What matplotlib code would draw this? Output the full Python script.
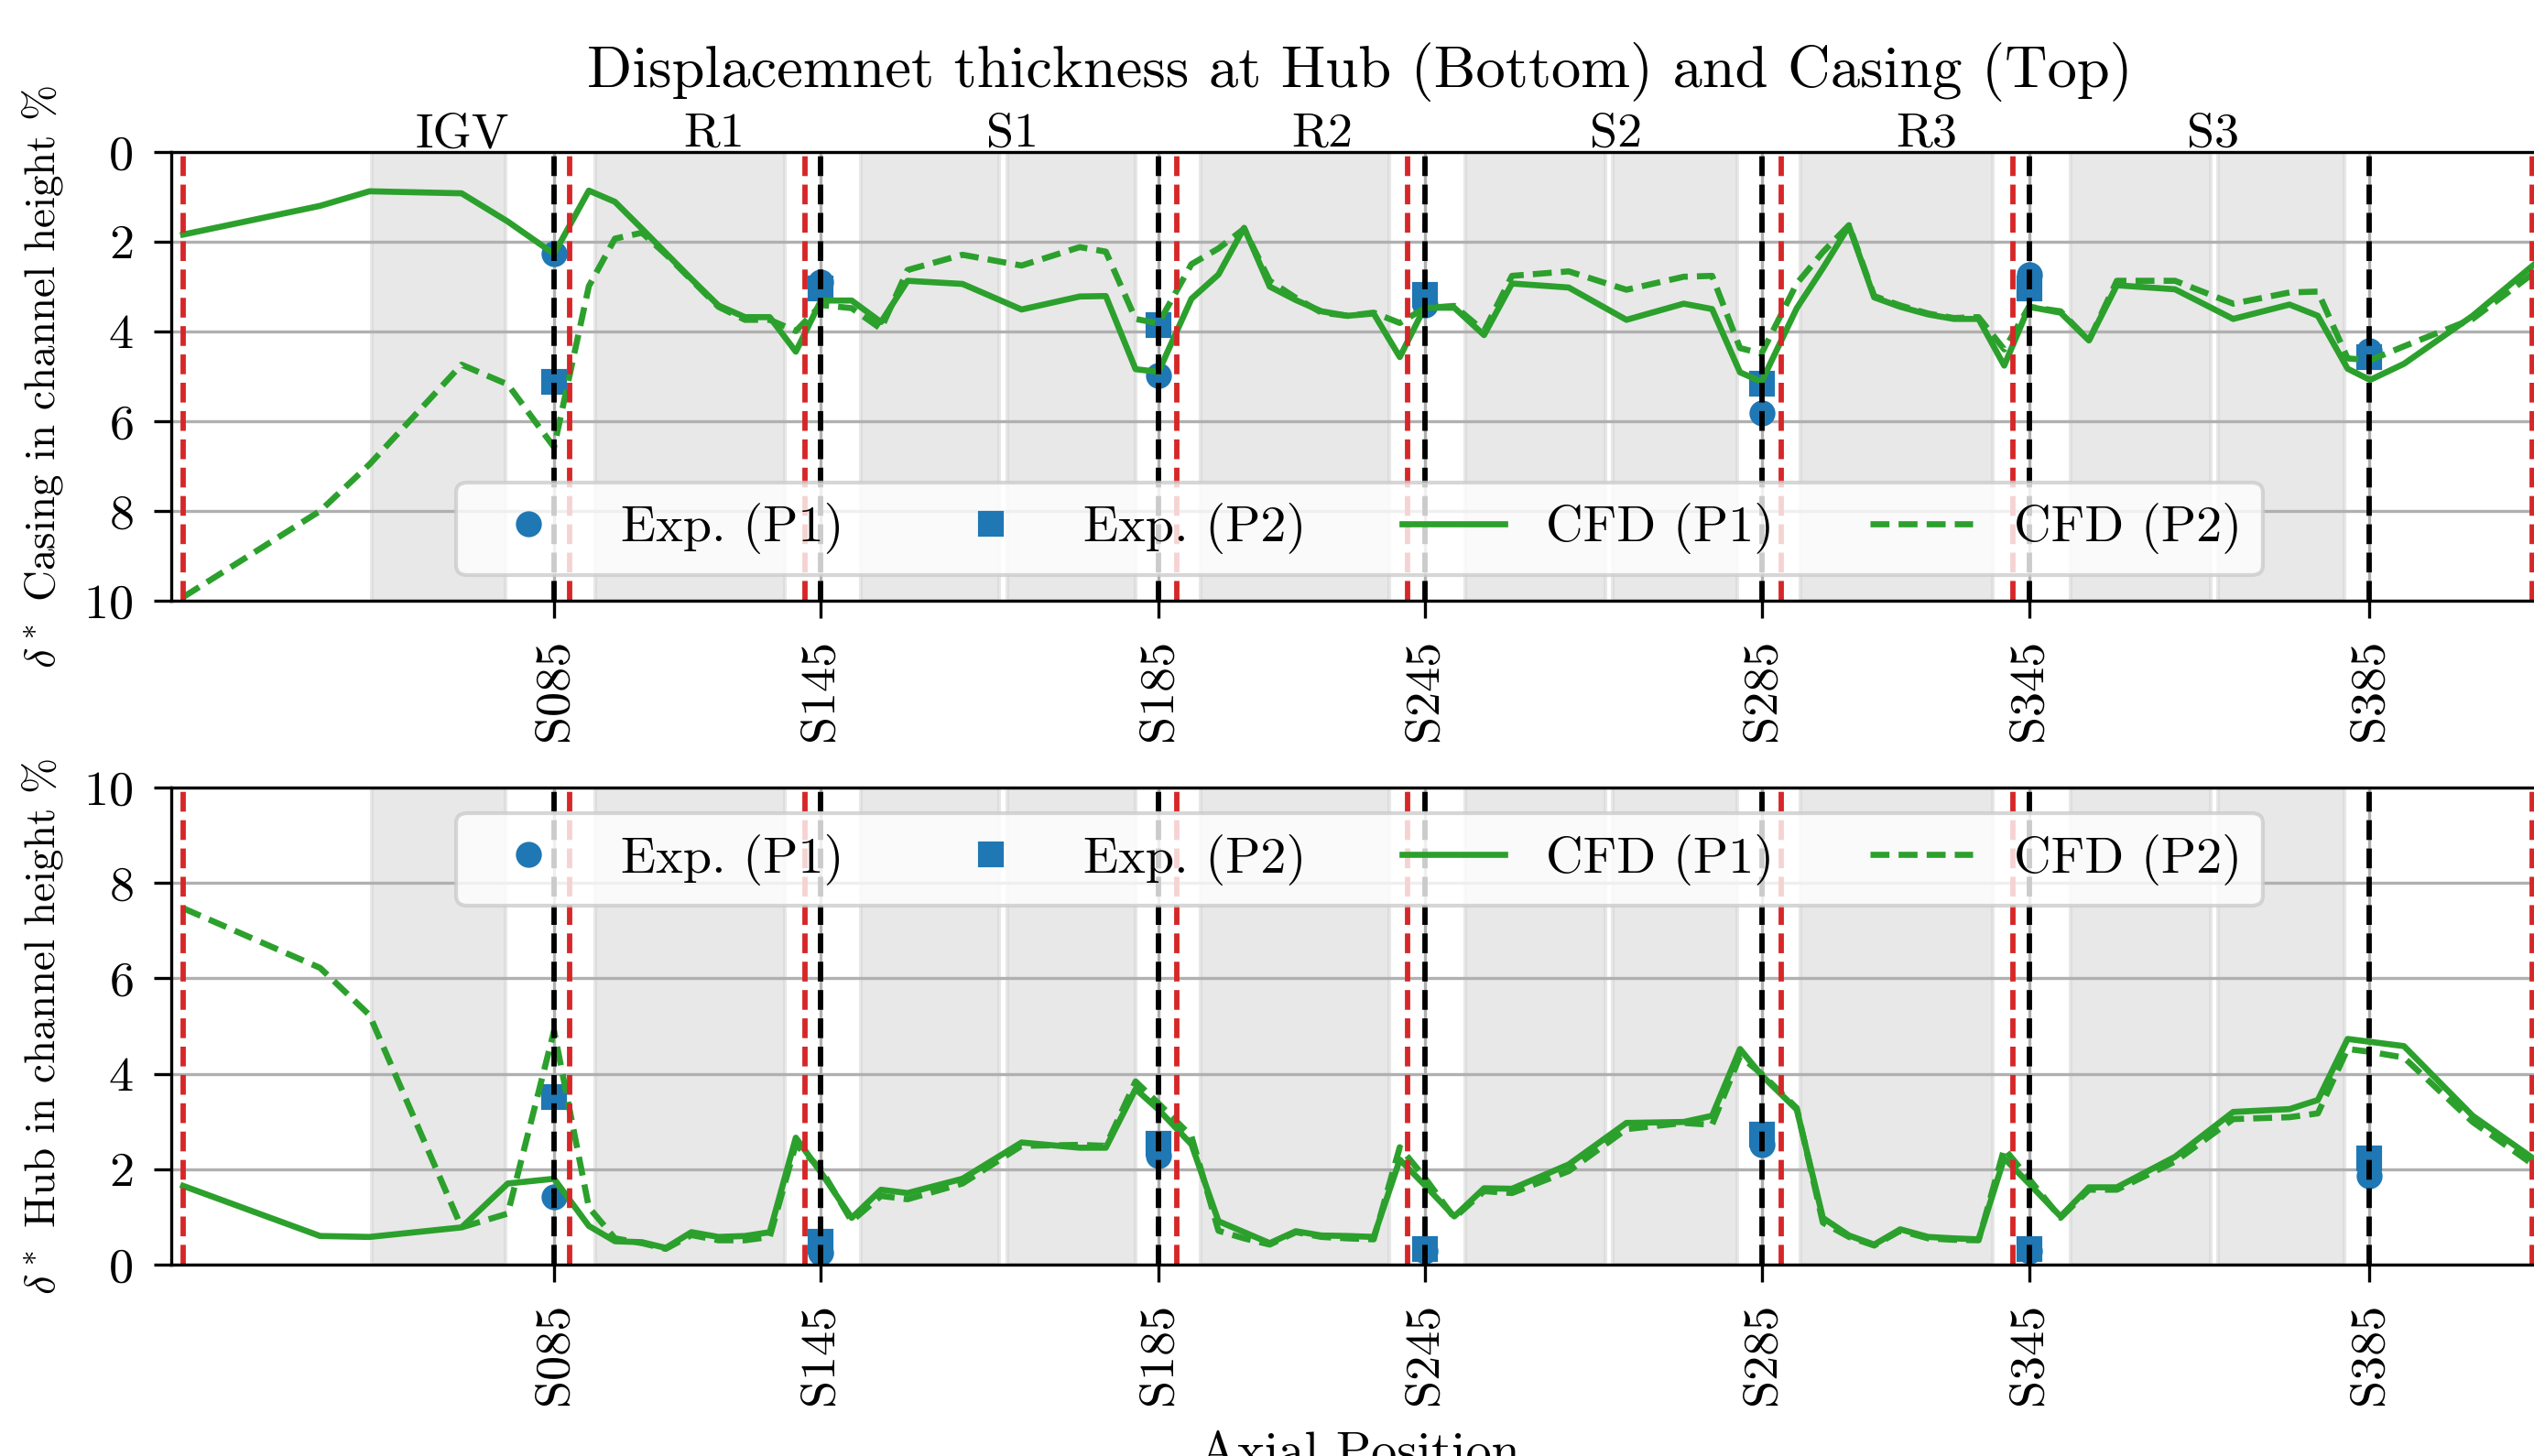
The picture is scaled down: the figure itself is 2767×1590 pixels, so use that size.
"""Displacement thickness at hub and casing along the compressor axis."""

import matplotlib.pyplot as plt

plt.rcParams.update({
    "font.family": "cmr10",
    "mathtext.fontset": "cm",
    "axes.formatter.use_mathtext": True,
    "axes.unicode_minus": False,
})

# probe planes (black dashed) and their labels
probe_x = [83.6, 141.7, 215.6, 273.7, 347.4, 405.7, 480.0]
probe_names = ["S085", "S145", "S185", "S245", "S285", "S345", "S385"]

# blade row leading/trailing edges (red dashed)
edge_x = [2.6, 86.9, 138.3, 219.5, 270.0, 351.5, 402.2, 515.6]

# shaded blade passages
blade_spans = [(43.8, 73.0), (92.5, 133.9), (150.6, 180.8), (182.6, 210.6),
               (224.7, 265.9), (282.6, 313.2), (314.7, 342.0), (355.7, 397.8),
               (414.8, 445.4), (447.0, 474.6)]
row_names = ["IGV", "R1", "S1", "R2", "S2", "R3", "S3"]
row_label_x = [63.5, 118.6, 183.8, 251.3, 315.6, 383.3, 446.0]

# measurements
casing_exp_p1 = [2.27, 2.90, 4.98, 3.40, 5.81, 2.73, 4.43]
casing_exp_p2 = [5.12, 3.05, 3.85, 3.18, 5.16, 3.05, 4.57]
hub_exp_p1 = [1.42, 0.25, 2.29, 0.28, 2.52, 0.28, 1.87]
hub_exp_p2 = [3.51, 0.48, 2.54, 0.32, 2.72, 0.32, 2.23]

# CFD stations
x_cfd = [2.6, 32.5, 43.3, 63.4, 73.5, 83.6, 91.2, 96.9, 102.8, 108.0,
         113.6, 119.5, 125.3, 130.7, 136.4, 141.9, 148.6, 155.0, 160.8, 172.8,
         185.7, 198.4, 204.1, 210.6, 215.6, 222.8, 228.7, 234.3, 239.9, 245.6,
         251.2, 256.9, 262.6, 268.3, 273.7, 280.2, 286.7, 292.8, 305.2, 317.8,
         330.3, 336.5, 342.6, 347.3, 355.0, 360.7, 366.4, 371.9, 377.6, 383.7,
         389.3, 394.7, 400.3, 405.7, 412.6, 418.8, 424.9, 437.6, 450.3, 462.6,
         468.8, 475.3, 480.2, 487.6, 502.6, 516.8]

casing_cfd_p1 = [1.84, 1.20, 0.875, 0.92, 1.55, 2.27, 0.86, 1.11, 1.71, 2.25,
                 2.83, 3.42, 3.68, 3.68, 4.45, 3.31, 3.31, 3.79, 2.87, 2.94,
                 3.51, 3.22, 3.21, 4.84, 4.90, 3.27, 2.73, 1.69, 3.00, 3.30,
                 3.55, 3.65, 3.60, 4.57, 3.47, 3.47, 4.08, 2.93, 3.02, 3.74,
                 3.38, 3.50, 4.91, 5.12, 3.48, 2.59, 1.65, 3.24, 3.45, 3.62,
                 3.72, 3.72, 4.76, 3.45, 3.58, 4.20, 2.97, 3.06, 3.72, 3.40,
                 3.65, 4.83, 5.08, 4.72, 3.65, 2.44]
casing_cfd_p2 = [9.92, 8.00, 6.96, 4.74, 5.18, 6.58, 2.99, 1.93, 1.80, 2.28,
                 2.85, 3.45, 3.74, 3.74, 3.99, 3.41, 3.48, 3.94, 2.63, 2.29,
                 2.53, 2.12, 2.22, 3.72, 3.82, 2.50, 2.15, 1.71, 2.87, 3.25,
                 3.58, 3.65, 3.58, 3.81, 3.48, 3.43, 3.99, 2.76, 2.66, 3.07,
                 2.78, 2.76, 4.37, 4.49, 2.93, 2.23, 1.63, 3.21, 3.42, 3.60,
                 3.70, 3.68, 4.40, 3.45, 3.55, 4.20, 2.87, 2.87, 3.38, 3.13,
                 3.11, 4.60, 4.64, 4.33, 3.72, 2.63]
hub_cfd_p1 = [1.65, 0.60, 0.58, 0.78, 1.70, 1.80, 0.81, 0.49, 0.47, 0.35,
              0.68, 0.58, 0.60, 0.68, 2.66, 1.93, 0.98, 1.57, 1.50, 1.80,
              2.56, 2.45, 2.45, 3.68, 3.25, 2.52, 0.91, 0.68, 0.45, 0.70,
              0.61, 0.60, 0.58, 2.20, 1.67, 1.01, 1.60, 1.59, 2.10, 2.97,
              2.99, 3.12, 4.52, 3.97, 3.25, 0.98, 0.61, 0.42, 0.74, 0.58,
              0.55, 0.53, 2.23, 1.70, 1.01, 1.62, 1.62, 2.26, 3.20, 3.26,
              3.45, 4.73, 4.67, 4.58, 3.12, 2.16]
hub_cfd_p2 = [7.47, 6.22, 5.23, 0.78, 1.07, 4.90, 1.20, 0.55, 0.45, 0.33,
              0.62, 0.51, 0.51, 0.58, 2.52, 2.00, 0.91, 1.44, 1.37, 1.70,
              2.49, 2.51, 2.49, 3.84, 3.38, 2.69, 0.71, 0.55, 0.42, 0.68,
              0.58, 0.55, 0.53, 2.46, 1.83, 0.98, 1.54, 1.50, 1.96, 2.84,
              2.97, 2.93, 4.37, 4.00, 3.28, 0.88, 0.58, 0.40, 0.71, 0.55,
              0.52, 0.51, 2.43, 1.80, 0.98, 1.57, 1.57, 2.16, 3.05, 3.09,
              3.17, 4.52, 4.46, 4.34, 2.99, 2.03]

W, H = 2767, 1590
CFD_DASH = (0, (3.1, 1.5))


def draw_panel(ax, exp_p1, exp_p2, cfd_p1, cfd_p2, ylabel, legend_loc):
    for a, b in blade_spans:
        ax.axvspan(a, b, color="lightgray", alpha=0.5, lw=1.0)

    ax.plot(probe_x, exp_p1, "o", color="tab:blue", ms=5.8, label="Exp. (P1)")
    ax.plot(probe_x, exp_p2, "s", color="tab:blue", ms=5.8, label="Exp. (P2)")
    ax.plot(x_cfd, cfd_p1, "-", color="tab:green", lw=1.6, label="CFD (P1)")
    ax.plot(x_cfd, cfd_p2, ls=CFD_DASH, color="tab:green", lw=1.6,
            label="CFD (P2)")

    for xe in edge_x:
        ax.axvline(xe, color="tab:red", ls="--", lw=1.4)
    for xp in probe_x:
        ax.axvline(xp, color="k", ls="--", lw=1.4)

    ax.set_xlim(0, 519)
    ax.set_ylim(0, 10)
    ax.set_yticks(range(0, 11, 2))
    ax.set_xticks(probe_x, probe_names, rotation=90)
    ax.grid(True)
    ax.tick_params(labelsize=13, length=4.5, pad=5.5)
    ax.set_ylabel(ylabel, fontsize=11.3)
    ax.yaxis.set_label_coords(-0.0447, 0.5)
    ax.legend(loc=legend_loc, ncol=4, fontsize=13.5, columnspacing=1.85)


fig = plt.figure(figsize=(W / 300, H / 300), dpi=300)
ax_top = fig.add_axes([187 / W, 1 - 656 / H, 2595 / W, 490 / H])
ax_bot = fig.add_axes([187 / W, 1 - 1381 / H, 2595 / W, 521 / H])

draw_panel(ax_top, casing_exp_p1, casing_exp_p2, casing_cfd_p1, casing_cfd_p2,
           r"$\delta^*$ Casing in channel height %", "lower center")
ax_top.invert_yaxis()

draw_panel(ax_bot, hub_exp_p1, hub_exp_p2, hub_cfd_p1, hub_cfd_p2,
           r"$\delta^*$ Hub in channel height %", "upper center")
ax_bot.set_xlabel("Axial Position", fontsize=13.5, labelpad=7)

for name, xl in zip(row_names, row_label_x):
    ax_top.text(xl, 1.012, name, transform=ax_top.get_xaxis_transform(),
                ha="center", va="baseline", fontsize=13)

fig.text((187 + 2595 / 2) / W, 1 - 94.6 / H,
         "Displacemnet thickness at Hub (Bottom) and Casing (Top)",
         ha="center", va="baseline", fontsize=15.5)

fig.savefig("out.png", dpi=300)
